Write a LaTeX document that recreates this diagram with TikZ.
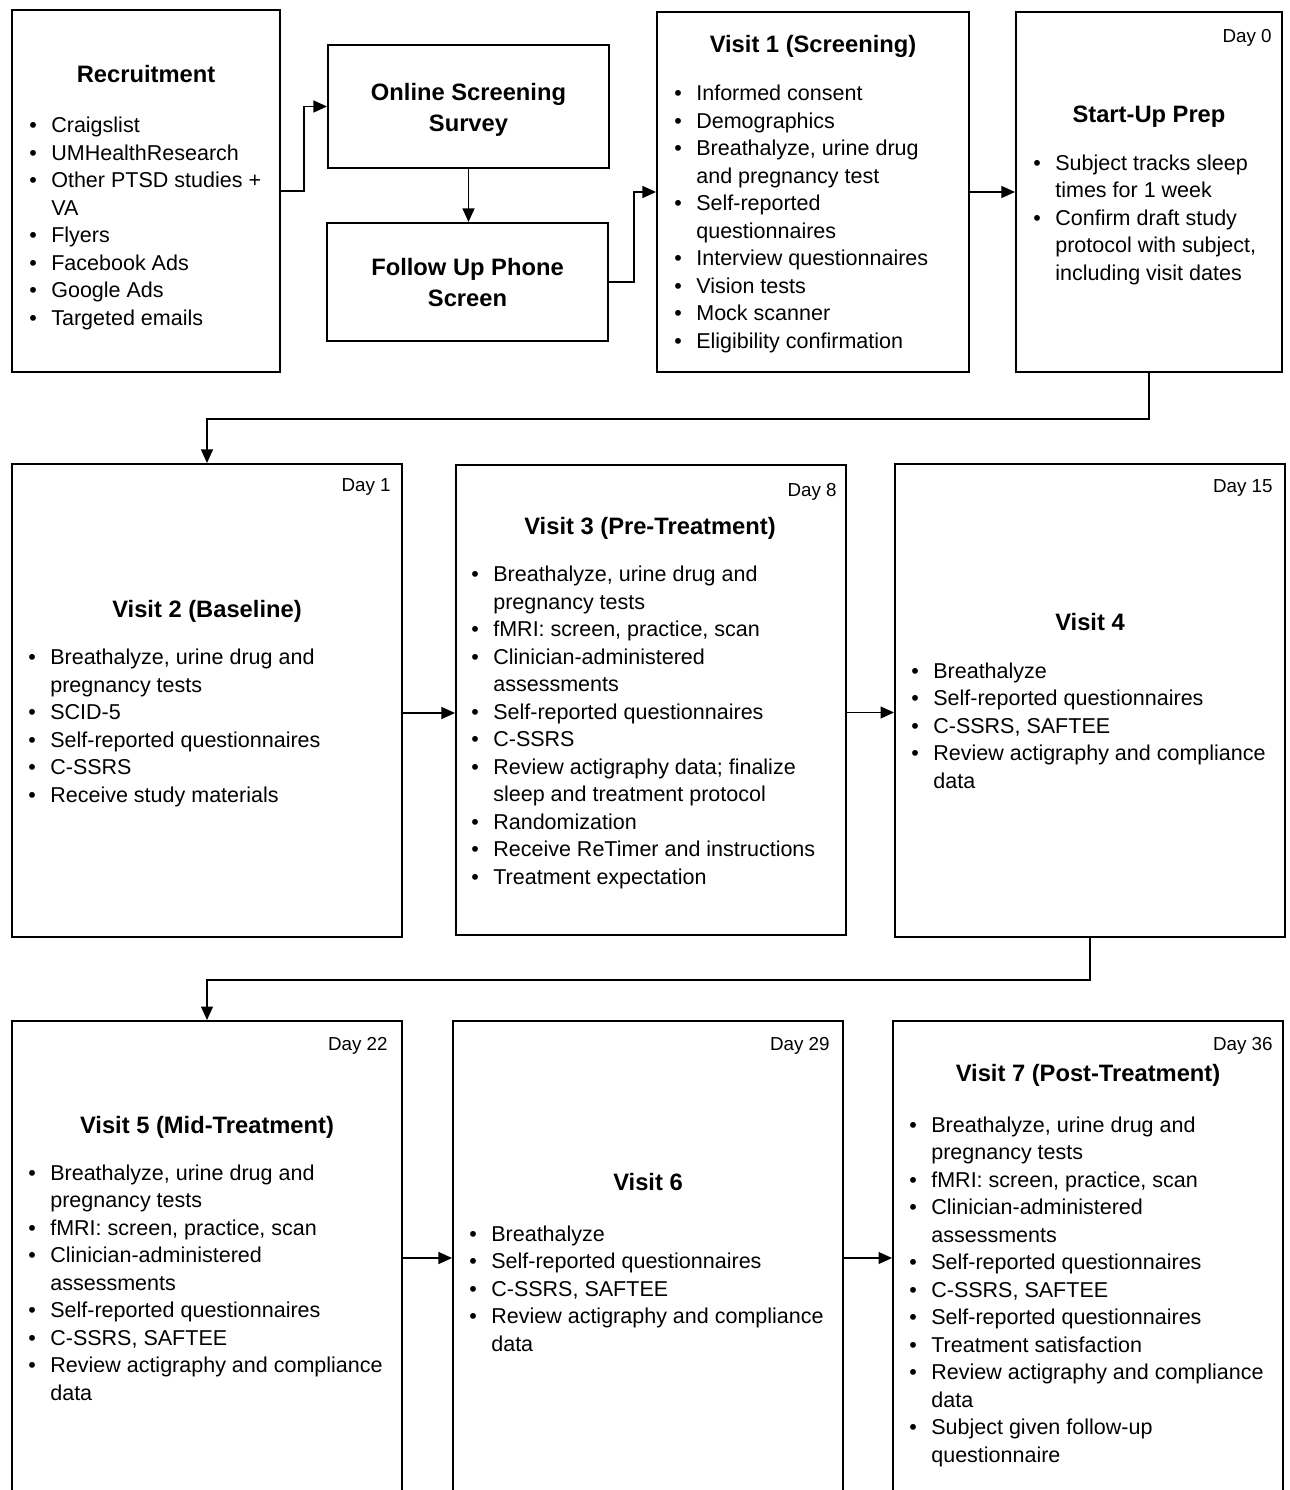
\documentclass[tikz,border=0pt]{standalone}
\usepackage{fontspec}
\setmainfont{Liberation Sans}
\usetikzlibrary{arrows.meta,positioning}
\newcommand{\bl}[1]{\makebox[0.44cm][l]{\textbullet}#1}
\newcommand{\cl}[1]{\hspace*{0.44cm}#1}

\begin{document}
\begin{tikzpicture}[x=0.02cm,y=-0.02cm,
  box/.style={draw,line width=1.2pt,inner sep=0pt},
  head/.style={anchor=base,align=center,inner sep=0pt,font=\fontsize{13.5}{17.6}\selectfont\bfseries},
  items/.style={anchor=base west,align=left,inner sep=0pt,font=\fontsize{12.24}{15.65}\selectfont},
  day/.style={anchor=base east,inner sep=0pt,font=\fontsize{10.7}{13}\selectfont},
  arr/.style={line width=0.7pt,-{Triangle[length=0.27cm,width=0.24cm]}}]
\path[use as bounding box,clip] (0,0) rectangle (1290,1490);

\node[box,minimum width=5.36cm,minimum height=7.24cm] (recruit) at (146,191) {};
\node[box,minimum width=5.62cm,minimum height=2.46cm] (survey) at (468.5,106.5) {};
\node[box,minimum width=5.62cm,minimum height=2.36cm] (phone) at (467.5,282) {};
\node[box,minimum width=6.24cm,minimum height=7.2cm] (visit1) at (813,192) {};
\node[box,minimum width=5.32cm,minimum height=7.2cm] (prep) at (1149,192) {};
\node[box,minimum width=7.8cm,minimum height=9.46cm] (visit2) at (207,700.5) {};
\node[box,minimum width=7.8cm,minimum height=9.4cm] (visit3) at (651,700) {};
\node[box,minimum width=7.8cm,minimum height=9.46cm] (visit4) at (1090,700.5) {};
\node[box,minimum width=7.8cm,minimum height=10.38cm] (visit5) at (207,1280.5) {};
\node[box,minimum width=7.8cm,minimum height=10.38cm] (visit6) at (648,1280.5) {};
\node[box,minimum width=7.8cm,minimum height=10.38cm] (visit7) at (1088,1280.5) {};

\node[head] (recruithead) at (146,83) {Recruitment};
\node[items] (recruitlist) at (29,325) {\bl{Craigslist}\\ \bl{UMHealthResearch}\\ \bl{Other PTSD studies +}\\ \cl{VA}\\ \bl{Flyers}\\ \bl{Facebook Ads}\\ \bl{Google Ads}\\ \bl{Targeted emails}};

\node[head] (surveyhead) at (468.5,131.5) {Online Screening\\Survey};
\node[head] (phonehead) at (467.5,306.5) {Follow Up Phone\\Screen};

\node[head] (visit1head) at (813,53) {Visit 1 (Screening)};
\node[items] (visit1list) at (674,348) {\bl{Informed consent}\\ \bl{Demographics}\\ \bl{Breathalyze, urine drug}\\ \cl{and pregnancy test}\\ \bl{Self-reported}\\ \cl{questionnaires}\\ \bl{Interview questionnaires}\\ \bl{Vision tests}\\ \bl{Mock scanner}\\ \bl{Eligibility confirmation}};

\node[day] (day0) at (1272,43) {Day 0};
\node[head] (prephead) at (1149,122.5) {Start-Up Prep};
\node[items] (preplist) at (1033,280) {\bl{Subject tracks sleep}\\ \cl{times for 1 week}\\ \bl{Confirm draft study}\\ \cl{protocol with subject,}\\ \cl{including visit dates}};

\node[day] (day1) at (391,491) {Day 1};
\node[head] (visit2head) at (207,617.5) {Visit 2 (Baseline)};
\node[items] (visit2list) at (28,802) {\bl{Breathalyze, urine drug and}\\ \cl{pregnancy tests}\\ \bl{SCID-5}\\ \bl{Self-reported questionnaires}\\ \bl{C-SSRS}\\ \bl{Receive study materials}};

\node[day] (day8) at (837,496) {Day 8};
\node[head] (visit3head) at (650,534.5) {Visit 3 (Pre-Treatment)};
\node[items] (visit3list) at (471,884) {\bl{Breathalyze, urine drug and}\\ \cl{pregnancy tests}\\ \bl{fMRI: screen, practice, scan}\\ \bl{Clinician-administered}\\ \cl{assessments}\\ \bl{Self-reported questionnaires}\\ \bl{C-SSRS}\\ \bl{Review actigraphy data; finalize}\\ \cl{sleep and treatment protocol}\\ \bl{Randomization}\\ \bl{Receive ReTimer and instructions}\\ \bl{Treatment expectation}};

\node[day] (day15) at (1273,492) {Day 15};
\node[head] (visit4head) at (1090,630.5) {Visit 4};
\node[items] (visit4list) at (911,788) {\bl{Breathalyze}\\ \bl{Self-reported questionnaires}\\ \bl{C-SSRS, SAFTEE}\\ \bl{Review actigraphy and compliance}\\ \cl{data}};

\node[day] (day22) at (388,1050) {Day 22};
\node[head] (visit5head) at (207,1133.5) {Visit 5 (Mid-Treatment)};
\node[items] (visit5list) at (28,1400) {\bl{Breathalyze, urine drug and}\\ \cl{pregnancy tests}\\ \bl{fMRI: screen, practice, scan}\\ \bl{Clinician-administered}\\ \cl{assessments}\\ \bl{Self-reported questionnaires}\\ \bl{C-SSRS, SAFTEE}\\ \bl{Review actigraphy and compliance}\\ \cl{data}};

\node[day] (day29) at (830,1050) {Day 29};
\node[head] (visit6head) at (648,1190.5) {Visit 6};
\node[items] (visit6list) at (469,1351) {\bl{Breathalyze}\\ \bl{Self-reported questionnaires}\\ \bl{C-SSRS, SAFTEE}\\ \bl{Review actigraphy and compliance}\\ \cl{data}};

\node[day] (day36) at (1273,1050) {Day 36};
\node[head] (visit7head) at (1088,1081.5) {Visit 7 (Post-Treatment)};
\node[items] (visit7list) at (909,1462) {\bl{Breathalyze, urine drug and}\\ \cl{pregnancy tests}\\ \bl{fMRI: screen, practice, scan}\\ \bl{Clinician-administered}\\ \cl{assessments}\\ \bl{Self-reported questionnaires}\\ \bl{C-SSRS, SAFTEE}\\ \bl{Self-reported questionnaires}\\ \bl{Treatment satisfaction}\\ \bl{Review actigraphy and compliance}\\ \cl{data}\\ \bl{Subject given follow-up}\\ \cl{questionnaire}};

\draw[arr] (recruit.east) -- ++(23,0) |- (survey.west);
\draw[arr] (survey.south) -- (survey.south |- phone.north);
\draw[arr] (phone.east) -- ++(25,0) |- (visit1.west);
\draw[arr] (visit1.east) -- (visit1.east -| prep.west);
\draw[arr] (prep.south) -- ++(0,46) -| (visit2.north);
\draw[arr] ([yshift=-0.25cm]visit2.east) -- ([yshift=-0.25cm]visit2.east -| visit3.west);
\draw[arr] ([yshift=-0.25cm]visit3.east) -- ([yshift=-0.25cm]visit3.east -| visit4.west);
\draw[arr] (visit4.south) -- ++(0,42) -| (visit5.north);
\draw[arr] ([yshift=0.45cm]visit5.east) -- ([yshift=0.45cm]visit5.east -| visit6.west);
\draw[arr] ([yshift=0.45cm]visit6.east) -- ([yshift=0.45cm]visit6.east -| visit7.west);
\end{tikzpicture}
\end{document}
